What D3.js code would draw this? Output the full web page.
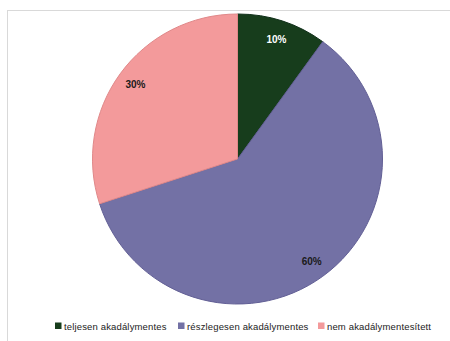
<!DOCTYPE html>
<html>
<head>
<meta charset="utf-8">
<script src="https://cdn.jsdelivr.net/npm/d3@7"></script>
<style>
  html, body { margin: 0; padding: 0; background: #fff; }
  svg { display: block; }
</style>
</head>
<body>
<svg id="chart" width="450" height="341"></svg>
<script>
const categories = ["teljesen akadálymentes", "részlegesen akadálymentes", "nem akadálymentesített"];
const values = [10, 60, 30];
const colors = ["#173d1c", "#7371a5", "#f39a9b"];
const strokes = ["#10301a", "#625f95", "#e08889"];
const labelColors = ["#ffffff", "#1a1a1a", "#1a1a1a"];

const svg = d3.select("#chart");
const font = "'Liberation Sans', Arial, sans-serif";

// chart area frame
svg.append("rect")
  .attr("x", 7.5).attr("y", 10.5)
  .attr("width", 460).attr("height", 350)
  .attr("fill", "#fff")
  .attr("stroke", "#d9d9d9").attr("stroke-width", 1);

const cx = 237.5, cy = 159, r = 145;
const data = categories.map((c, i) => ({ name: c, value: values[i], i }));

const pie = d3.pie().value(d => d.value).sort(null);
const arc = d3.arc().innerRadius(0).outerRadius(r);
const labelArc = d3.arc().innerRadius(r * 0.87).outerRadius(r * 0.87);
const total = d3.sum(values);

const g = svg.append("g").attr("transform", `translate(${cx},${cy})`);
const arcs = pie(data);

g.selectAll("path.slice")
  .data(arcs)
  .join("path")
  .attr("class", "slice")
  .attr("d", arc)
  .attr("fill", d => colors[d.data.i])
  .attr("stroke", d => strokes[d.data.i])
  .attr("stroke-width", 1);

g.selectAll("text.pct")
  .data(arcs)
  .join("text")
  .attr("class", "pct")
  .attr("transform", d => `translate(${labelArc.centroid(d)})`)
  .attr("text-anchor", "middle")
  .attr("dominant-baseline", "central")
  .attr("font-family", font)
  .attr("font-weight", "bold")
  .attr("font-size", 10)
  .attr("fill", d => labelColors[d.data.i])
  .text(d => Math.round(d.data.value / total * 100) + "%");

// legend
const legendX = [55, 178, 318];
const legend = svg.append("g").attr("transform", "translate(0,326)");
const items = legend.selectAll("g")
  .data(data)
  .join("g")
  .attr("transform", d => `translate(${legendX[d.i]},0)`);
items.append("rect")
  .attr("x", 0).attr("y", -3.5)
  .attr("width", 6.5).attr("height", 6.5)
  .attr("fill", d => colors[d.i]);
items.append("text")
  .attr("x", 9)
  .attr("y", 0)
  .attr("dominant-baseline", "central")
  .attr("font-family", font)
  .attr("font-size", 9.5)
  .attr("letter-spacing", 0.15)
  .attr("fill", "#222")
  .text(d => d.name);
</script>
</body>
</html>
